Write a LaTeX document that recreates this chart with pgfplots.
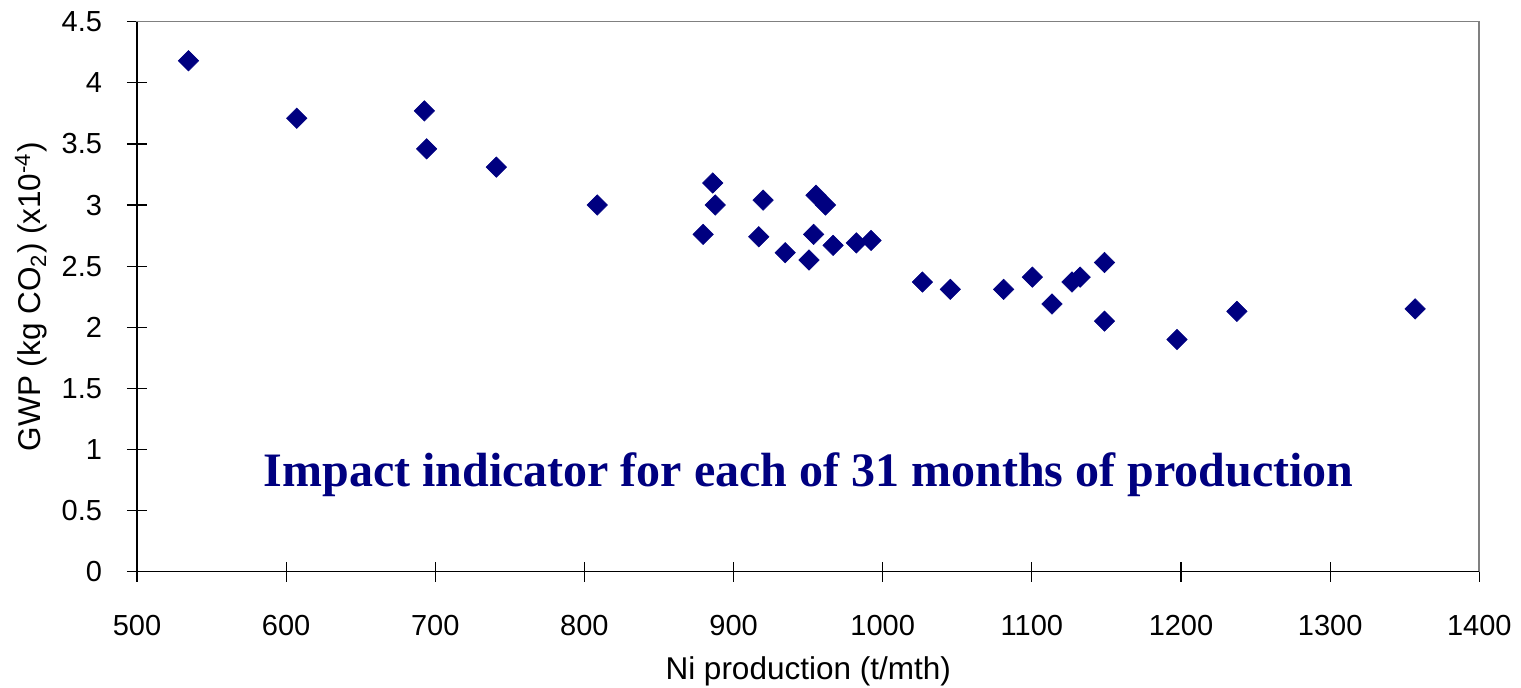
\documentclass[border=0pt]{standalone}
\usepackage{pgfplots}
\pgfplotsset{compat=1.18}
\usepackage{fontspec}
\setmainfont{Liberation Sans}
\newfontfamily\titlefont{Liberation Serif}
\definecolor{navyblue}{RGB}{0,0,128}
\pgfplotstableread{
x y
534.5 4.18
607.1 3.71
692.7 3.77
694.2 3.46
740.9 3.31
808.6 3.00
886.0 3.18
887.7 3.00
879.6 2.76
919.8 3.04
916.9 2.74
934.6 2.61
950.6 2.55
955.3 3.08
961.6 3.00
953.7 2.76
966.7 2.67
982.3 2.69
992.2 2.71
1026.6 2.37
1045.3 2.31
1081.1 2.31
1100.3 2.41
1113.5 2.19
1126.9 2.37
1132.4 2.41
1148.7 2.53
1148.7 2.05
1197.3 1.90
1237.5 2.13
1357.0 2.15
}\gwpdata
\begin{document}
\begin{tikzpicture}
\path[use as bounding box] (-68.5pt,-58.15pt) rectangle (692pt,285.85pt);
\begin{axis}[
  at={(0,0)}, anchor=south west,
  width=671.15pt, height=275pt, scale only axis,
  xmin=500, xmax=1400, ymin=0, ymax=4.5,
  xtick={500,600,...,1400}, ytick={0,0.5,...,4.5},
  tick pos=left,
  tick align=center, major tick length=10pt,
  tick style={black, line width=0.6pt},
  axis line style={draw=gray, line width=0.8pt},
  clip=false,
  /pgf/number format/assume math mode=true,
  /pgf/number format/set thousands separator={},
  ticklabel style={font=\fontsize{14.5}{17}\selectfont},
  xticklabel style={anchor=north, inner sep=0pt, yshift=-16.6pt},
  yticklabel style={anchor=east, inner sep=0pt, xshift=-12.3pt},
]
\addplot[only marks, mark=square*, mark size=3.6pt,
  mark options={rotate=45, fill=navyblue, draw=navyblue, line width=0.3pt}]
  table[x=x, y=y] {\gwpdata};
\draw[black, line width=0.8pt] (rel axis cs:0,1) -- (rel axis cs:0,0) -- (rel axis cs:1,0);
\node[anchor=base, text=navyblue, font=\titlefont\bfseries\fontsize{24}{28}\selectfont]
  at (axis cs:950.3,0.696) {Impact indicator for each of 31 months of production};
\end{axis}
\node[font=\fontsize{15.75}{18}\selectfont] at (335.6pt,-49.6pt) {Ni production (t/mth)};
\node[rotate=90, font=\fontsize{15.75}{18}\selectfont] at (-53pt,137.5pt) {GWP (kg CO\textsubscript{2}) (x10\textsuperscript{-4})};
\end{tikzpicture}
\end{document}
